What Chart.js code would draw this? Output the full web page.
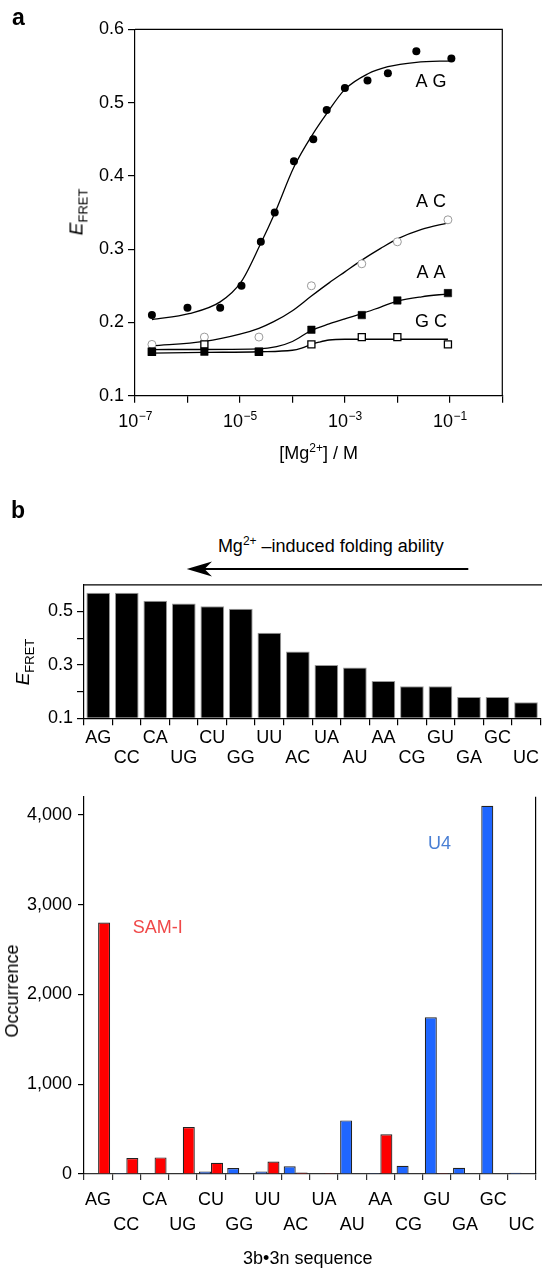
<!DOCTYPE html>
<html><head><meta charset="utf-8">
<script src="https://cdn.jsdelivr.net/npm/chart.js@4.4.1/dist/chart.umd.min.js"></script>
<style>
html,body{margin:0;padding:0;background:#fff}
body{width:542px;height:1268px;position:relative;overflow:hidden;font-family:"Liberation Sans",Arial,Helvetica,sans-serif;color:#000}
canvas{position:absolute;left:0}
.t{position:absolute;white-space:nowrap;line-height:1}
.sup{font-size:12px;position:relative;top:-7px}
.rot{position:absolute;white-space:nowrap;line-height:1;transform:translate(-50%,-50%) rotate(-90deg)}
</style></head><body>
<canvas id="ca" width="542" height="470" style="top:0"></canvas>
<canvas id="cb" width="542" height="200" style="top:570px"></canvas>
<canvas id="cc" width="542" height="488" style="top:780px"></canvas>

<div class="t" style="left:12px;top:5.5px;font-size:23px;font-weight:bold">a</div>
<div class="t" style="left:11px;top:498.5px;font-size:23px;font-weight:bold">b</div>
<div class="rot" style="left:76px;top:212px;font-size:19px"><i>E</i><span style="font-size:13px;position:relative;top:5px">FRET</span></div>
<div class="t" style="left:0;width:637.4px;text-align:center;top:443.8px;font-size:18px">[Mg<span class="sup">2+</span>] / M</div>
<div class="t" style="left:0;width:661.6px;text-align:center;top:536.8px;font-size:18px">Mg<span class="sup">2+</span> –induced folding ability</div>
<svg style="position:absolute;left:0;top:540px" width="542" height="60">
  <line x1="468.3" y1="29" x2="200" y2="29" stroke="#000" stroke-width="2"/>
  <polygon points="186.7,29 212,21.5 204.5,29 212,36.5" fill="#000"/>
</svg>
<div class="rot" style="left:22px;top:662px;font-size:19px"><i>E</i><span style="font-size:13px;position:relative;top:5px">FRET</span></div>
<div class="rot" style="left:12px;top:991px;font-size:18px">Occurrence</div>
<div class="t" style="left:132.7px;top:917.8px;font-size:18px;color:#F04848">SAM-I</div>
<div class="t" style="left:428px;top:833.8px;font-size:18px;color:#4A7FD4">U4</div>
<div class="t" style="left:0;width:615.6px;text-align:center;top:1248.8px;font-size:18px">3b•3n sequence</div>

<script>
// ---------- Panel a: EFRET vs [Mg2+] ----------
const concAG   = [2.1e-7, 1.0e-6, 4.2e-6, 1.07e-5, 2.5e-5, 4.6e-5, 1.07e-4, 2.5e-4, 4.5e-4, 1.0e-3, 2.7e-3, 6.6e-3, 2.3e-2, 0.107];
const efretAG  = [0.21, 0.22, 0.22, 0.25, 0.31, 0.35, 0.42, 0.45, 0.49, 0.52, 0.53, 0.54, 0.57, 0.56];
const concPts  = [2.1e-7, 2.1e-6, 2.3e-5, 2.3e-4, 2.1e-3, 1.0e-2, 9.2e-2];
const efretAC  = [0.17, 0.18, 0.18, 0.25, 0.28, 0.31, 0.34];
const efretAA  = [0.16, 0.16, 0.16, 0.19, 0.21, 0.23, 0.24];
const efretGC  = [0.16, 0.17, 0.16, 0.17, 0.18, 0.18, 0.17];

// fitted curves
const fitAGx = [2.1e-7, 1.07e-6, 4.2e-6, 1.07e-5, 2.5e-5, 4.6e-5, 1.07e-4, 2.5e-4, 4.5e-4, 1.0e-3, 2.7e-3, 6.6e-3, 2.3e-2, 0.107];
const fitAGy = [0.204, 0.212, 0.228, 0.256, 0.308, 0.349, 0.412, 0.458, 0.485, 0.518, 0.539, 0.549, 0.555, 0.557];
const fitACx = [2.1e-7, 2.1e-6, 1.0e-5, 2.3e-5, 4.4e-5, 1.0e-4, 2.3e-4, 5.0e-4, 1.0e-3, 2.1e-3, 4.8e-3, 1.0e-2, 2.9e-2, 9.2e-2];
const fitACy = [0.168, 0.174, 0.184, 0.192, 0.201, 0.216, 0.236, 0.254, 0.269, 0.285, 0.301, 0.314, 0.327, 0.336];
const fitAAx = [2.1e-7, 2.3e-5, 5.0e-5, 1.0e-4, 2.3e-4, 5.0e-4, 1.0e-3, 2.1e-3, 4.8e-3, 1.0e-2, 2.9e-2, 9.2e-2];
const fitAAy = [0.163, 0.164, 0.167, 0.174, 0.189, 0.198, 0.205, 0.212, 0.221, 0.229, 0.235, 0.239];
const fitGCx = [2.1e-7, 2.1e-6, 2.3e-5, 1.0e-4, 1.5e-4, 2.3e-4, 3.2e-4, 5.0e-4, 1.0e-3, 9.2e-2];
const fitGCy = [0.158, 0.159, 0.160, 0.162, 0.165, 0.170, 0.173, 0.176, 0.177, 0.177];

const xTickExps  = [-7, -6, -5, -4, -3, -2, -1, 0];
const xLabelExps = [-7, -5, -3, -1];
const yTicksA    = [0.1, 0.2, 0.3, 0.4, 0.5, 0.6];
const curveNames = ['A G', 'A C', 'A A', 'G C'];
const curveNameY = [0.528, 0.364, 0.267, 0.200];
const curveNameX = 0.044;

// ---------- Panel b ----------
const seqs      = ['AG','CC','CA','UG','CU','GG','UU','AC','UA','AU','AA','CG','GU','GA','GC','UC'];
const efretSeq  = [0.57, 0.57, 0.54, 0.53, 0.52, 0.51, 0.42, 0.35, 0.30, 0.29, 0.24, 0.22, 0.22, 0.18, 0.18, 0.16];
const yTicksB   = [0.1, 0.2, 0.3, 0.4, 0.5];
const u4Counts  = [5, 12, 4, 4, 27, 67, 27, 85, 4, 597, 11, 92, 1745, 69, 4100, 15];
const samCounts = [2800, 178, 185, 524, 125, 0, 140, 18, 10, 0, 442, 5, 12, 0, 0, 0];
const yTicksC   = [0, 1000, 2000, 3000, 4000];

// ---------- helpers ----------
const FONT = '"Liberation Sans", Arial, Helvetica, sans-serif';
const xy = (xs, ys) => xs.map((x, i) => ({x: x, y: ys[i]}));
const axisGrid = (len) => ({display: true, drawOnChartArea: false, drawTicks: true, tickLength: len, color: '#000', lineWidth: 1.2});
const axisBorder = {display: true, color: '#000', width: 1.2};
const tickFont = {family: FONT, size: 18};

Chart.defaults.animation = false;
Chart.defaults.events = [];
Chart.defaults.plugins.legend.display = false;
Chart.defaults.plugins.tooltip.enabled = false;

// ---------- Chart a ----------
const plugA = {
  id: 'plugA',
  afterDraw(chart) {
    const {ctx, chartArea: a, scales: {x: xs, y: ys}} = chart;
    ctx.save();
    ctx.strokeStyle = '#000'; ctx.lineWidth = 1.2;
    ctx.beginPath(); ctx.moveTo(a.left, a.top); ctx.lineTo(a.right, a.top); ctx.lineTo(a.right, a.bottom); ctx.stroke();
    ctx.fillStyle = '#000';
    xLabelExps.forEach(e => {
      const px = xs.getPixelForValue(Math.pow(10, e));
      ctx.font = '18px ' + FONT; const w1 = ctx.measureText('10').width;
      const sup = '\u2212' + Math.abs(e);
      ctx.font = '12px ' + FONT; const w2 = ctx.measureText(sup).width;
      const x0 = px - (w1 + w2) / 2;
      ctx.textAlign = 'left'; ctx.textBaseline = 'alphabetic';
      ctx.font = '18px ' + FONT; ctx.fillText('10', x0, a.bottom + 31);
      ctx.font = '12px ' + FONT; ctx.fillText(sup, x0 + w1 + 0.5, a.bottom + 24.3);
    });
    ctx.font = '18px ' + FONT; ctx.textAlign = 'center'; ctx.textBaseline = 'middle';
    curveNames.forEach((n, i) => ctx.fillText(n, xs.getPixelForValue(curveNameX), ys.getPixelForValue(curveNameY[i])));
    ctx.restore();
  }
};

const fitStyle = {showLine: true, borderColor: '#000', borderWidth: 1.3, pointRadius: 0, cubicInterpolationMode: 'monotone', fill: false, order: 10};

new Chart(document.getElementById('ca'), {
  type: 'scatter',
  data: {datasets: [
    {data: xy(concAG, efretAG), pointStyle: 'circle', pointRadius: 4, backgroundColor: '#000', borderColor: '#000', borderWidth: 0, order: 2},
    {data: xy(concPts, efretAA), pointStyle: 'rect', pointRadius: 5.3, backgroundColor: '#000', borderColor: '#000', borderWidth: 0.5, order: 3},
    {data: xy(concPts, efretGC), pointStyle: 'rect', pointRadius: 5, backgroundColor: '#fff', borderColor: '#000', borderWidth: 1.3, order: 4},
    {data: xy(concPts, efretAC), pointStyle: 'circle', pointRadius: 4, backgroundColor: '#fff', borderColor: '#9a9a9a', borderWidth: 1, order: 5},
    Object.assign({data: xy(fitAGx, fitAGy)}, fitStyle),
    Object.assign({data: xy(fitACx, fitACy)}, fitStyle),
    Object.assign({data: xy(fitAAx, fitAAy)}, fitStyle),
    Object.assign({data: xy(fitGCx, fitGCy)}, fitStyle)
  ]},
  options: {
    responsive: false,
    layout: {padding: {top: 29.3, right: 39.7, left: 0, bottom: 0}},
    scales: {
      x: {type: 'logarithmic', min: 1e-7, max: 1,
          afterBuildTicks: s => { s.ticks = xTickExps.map(e => ({value: Math.pow(10, e)})); },
          ticks: {callback: () => '', autoSkip: false, font: tickFont},
          grid: axisGrid(7), border: axisBorder,
          afterFit: s => { s.height = 74.3; }},
      y: {min: 0.1, max: 0.6,
          afterBuildTicks: s => { s.ticks = yTicksA.map(v => ({value: v})); },
          ticks: {callback: v => v.toFixed(1), font: tickFont, color: '#000', padding: 4},
          grid: axisGrid(7), border: axisBorder,
          afterFit: s => { s.width = 135; }}
    }
  },
  plugins: [plugA]
});

// ---------- Chart b (top bars) ----------
const plugB = {
  id: 'plugB',
  afterDraw(chart) {
    const {ctx, chartArea: a} = chart;
    ctx.save(); ctx.strokeStyle = '#000'; ctx.lineWidth = 1.2;
    ctx.beginPath(); ctx.moveTo(a.left, a.top); ctx.lineTo(chart.width, a.top); ctx.stroke();
    ctx.restore();
  }
};
new Chart(document.getElementById('cb'), {
  type: 'bar',
  data: {labels: seqs, datasets: [{data: efretSeq, base: 0.1, backgroundColor: '#000', borderColor: '#9a9a9a', borderWidth: 1, barPercentage: 0.83, categoryPercentage: 1}]},
  options: {
    responsive: false,
    layout: {padding: {top: 10, right: 0.4, left: 0, bottom: 0}},
    scales: {
      x: {grid: Object.assign(axisGrid(7), {offset: true}), border: axisBorder,
          ticks: {autoSkip: false, maxRotation: 0, color: '#000', padding: 3, font: {family: FONT, size: 18, lineHeight: 1.111},
                  callback: (v, i) => (i % 2 ? ['', seqs[i]] : seqs[i])},
          afterFit: s => { s.height = 51.7; }},
      y: {min: 0.1, max: 0.6,
          afterBuildTicks: s => { s.ticks = yTicksB.map(v => ({value: v})); },
          ticks: {callback: v => (Math.round(v * 10) % 2 ? v.toFixed(1) : ''), font: tickFont, color: '#000', padding: 4},
          grid: axisGrid(7), border: axisBorder,
          afterFit: s => { s.width = 84; }}
    }
  },
  plugins: [plugB]
});

// ---------- Chart c (occurrence) ----------
const plugC = {
  id: 'plugC',
  afterDraw(chart) {
    const {ctx, chartArea: a} = chart;
    ctx.save(); ctx.strokeStyle = '#000'; ctx.lineWidth = 1.2;
    ctx.beginPath(); ctx.moveTo(a.right, a.top); ctx.lineTo(a.right, a.bottom); ctx.stroke();
    ctx.restore();
  }
};
new Chart(document.getElementById('cc'), {
  type: 'bar',
  data: {labels: seqs, datasets: [
    {label: 'U4', data: u4Counts, backgroundColor: '#1F66FF', borderColor: '#222', borderWidth: 1.2, barPercentage: 1, categoryPercentage: 0.85},
    {label: 'SAM-I', data: samCounts, backgroundColor: '#FF0000', borderColor: '#222', borderWidth: 1.2, barPercentage: 1, categoryPercentage: 0.85}
  ]},
  options: {
    responsive: false,
    layout: {padding: {top: 10, right: 0.3, left: 0, bottom: 0}},
    scales: {
      x: {grid: Object.assign(axisGrid(6), {offset: true, color: '#333'}), border: {display: true, color: '#333', width: 1.2},
          ticks: {autoSkip: false, maxRotation: 0, color: '#000', padding: 7.5, font: {family: FONT, size: 18, lineHeight: 1.389},
                  callback: (v, i) => (i % 2 ? ['', seqs[i]] : seqs[i])},
          afterFit: s => { s.height = 94; }},
      y: {min: 0, max: 4200,
          afterBuildTicks: s => { s.ticks = yTicksC.map(v => ({value: v})); },
          ticks: {callback: v => v.toLocaleString('en-US'), font: tickFont, color: '#000', padding: 6},
          grid: axisGrid(6), border: axisBorder,
          afterFit: s => { s.width = 84; }}
    }
  },
  plugins: [plugC]
});
</script>
</body></html>
